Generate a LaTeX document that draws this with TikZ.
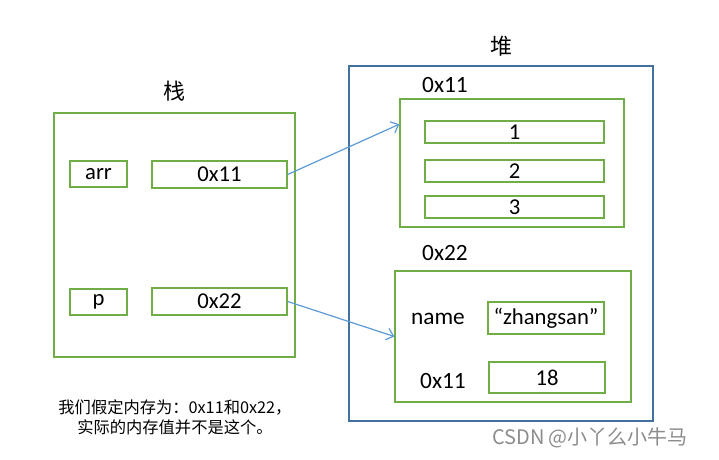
\documentclass[tikz,border=0pt]{standalone}
\usepackage{fontspec}
\setmainfont{Carlito}
\newfontfamily\cjk{Noto Sans CJK SC}
\usetikzlibrary{arrows.meta,calc,positioning}
\definecolor{boxgreen}{HTML}{70AD47}
\definecolor{heapblue}{HTML}{41719C}
\definecolor{ptrblue}{HTML}{5B9BD5}
\tikzstyle{line} = [draw, ptrblue, line width=0.9pt, -{Straight Barb[length=5pt,width=9pt]}]
\tikzstyle{frame} = [rectangle, draw=boxgreen, line width=1pt, inner sep=0pt]
\tikzstyle{cell} = [rectangle, draw=boxgreen, line width=1pt, inner sep=0pt, font=\fontsize{17}{17}\selectfont]
\tikzstyle{label} = [inner sep=0pt, font=\fontsize{17.5}{17.5}\selectfont]
\tikzstyle{title} = [inner sep=0pt, font=\cjk\fontsize{16.5}{16.5}\selectfont]

\begin{document}
\begin{tikzpicture}[x=0.75pt, y=-0.75pt]
		\useasboundingbox (0,0) rectangle (719,460);
		
		% stack
		\node[frame, minimum width=241*0.75pt, minimum height=244*0.75pt] (stack) at (174.5,235) {};
		\node[title, above=8pt of stack] (stack_t) {栈};
		\node[cell, minimum width=57*0.75pt, minimum height=26*0.75pt] (var_arr) at (98.5,174) {arr};
		\node[cell, minimum width=135*0.75pt, minimum height=27*0.75pt] (ptr_arr) at (219.5,174.5) {0x11};
		\node[cell, minimum width=57*0.75pt, minimum height=26*0.75pt] (var_p) at (98.5,302) {p};
		\node[cell, minimum width=135*0.75pt, minimum height=27*0.75pt] (ptr_p) at (219.5,301.5) {0x22};
		
		% heap
		\node[frame, draw=heapblue, line width=0.9pt, minimum width=304*0.75pt, minimum height=355*0.75pt] (heap) at (501,243.5) {};
		\node[title, above=7pt of heap] (heap_t) {堆};
		
		\node[frame, minimum width=224*0.75pt, minimum height=128*0.75pt] (obj_arr) at (512,163) {};
		\node[label] (addr_arr) at (445,85) {0x11};
		\node[cell, minimum width=179*0.75pt, minimum height=22*0.75pt] (elem_1) at (514.5,132) {1};
		\node[cell, minimum width=179*0.75pt, minimum height=22*0.75pt] (elem_2) at (514.5,171) {2};
		\node[cell, minimum width=179*0.75pt, minimum height=22*0.75pt] (elem_3) at (514.5,207) {3};
		
		\node[frame, minimum width=236*0.75pt, minimum height=131*0.75pt] (obj_p) at (513,336.5) {};
		\node[label] (addr_p) at (445,253) {0x22};
		\node[label] (key_name) at (438,319) {name};
		\node[cell, minimum width=116*0.75pt, minimum height=32*0.75pt] (val_name) at (546,318) {“zhangsan”};
		\node[label] (key_age) at (443,381) {0x11};
		\node[cell, minimum width=116*0.75pt, minimum height=31*0.75pt] (val_age) at (547,377.5) {18};
		
		% pointers
		\path [line] (ptr_arr.east) to (obj_arr.161);
		\path [line] (ptr_p.east) to (obj_p.west);
		
		% notes
		\node[align=center, inner sep=0pt, font=\cjk\fontsize{12.2}{15}\selectfont] (note) at (175,417) {我们假定内存为：0x11和0x22，\\实际的内存值并不是这个。};
		\node[inner sep=0pt, text=black!45, font=\cjk\fontsize{15}{15}\selectfont] (mark) at (590,438) {CSDN @小丫么小牛马};
		
		\end{tikzpicture}
\end{document}
